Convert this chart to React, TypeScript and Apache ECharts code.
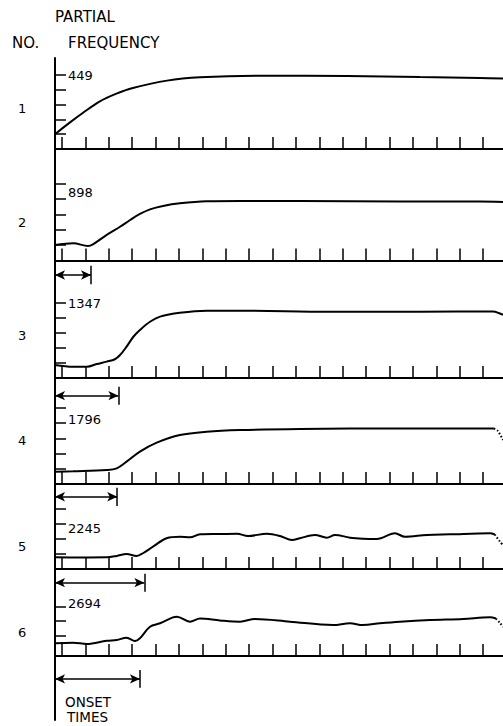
import React, { useEffect, useRef } from "react";
import * as echarts from "echarts";

// ---------- data ----------
const panelNumbers = ["1", "2", "3", "4", "5", "6"];
const frequencies = ["449", "898", "1347", "1796", "2245", "2694"];
const timeTicks = [0, 1, 2, 3, 4, 5, 6, 7, 8, 9, 10, 11, 12, 13, 14, 15, 16, 17, 18];

// amplitude envelopes: [time, amplitude]
const partial1 = [
  [-0.3, 1.0], [0.3, 1.75], [0.9, 2.45], [1.6, 3.2], [2.3, 3.72], [3.03, 4.12],
  [4.49, 4.62], [5.9, 4.84], [8.59, 4.95], [12.18, 4.93], [15.3, 4.86], [17.86, 4.8],
  [18.85, 4.76],
];
const partial2 = [
  [-0.3, 1.01], [0.48, 1.12], [1.11, 0.94], [1.34, 1.07], [1.91, 1.66], [2.48, 2.19],
  [2.91, 2.63], [3.33, 3.02], [3.76, 3.32], [4.32, 3.54], [5.04, 3.71], [6.18, 3.84],
  [7.61, 3.86], [10.17, 3.86], [14.44, 3.83], [17.86, 3.83], [18.85, 3.8],
];
const partial3 = [
  [-0.3, 0.87], [0.47, 0.75], [1.06, 0.75], [1.48, 0.93], [1.91, 1.09], [2.26, 1.25],
  [2.48, 1.53], [2.76, 2.09], [3.05, 2.75], [3.33, 3.2], [3.76, 3.75], [4.19, 4.09],
  [5.04, 4.35], [6.18, 4.49], [7.61, 4.49], [11.45, 4.42], [15.3, 4.42], [18.42, 4.43],
  [18.72, 4.3], [18.85, 4.2],
];
const partial4 = [
  [-0.3, 0.81], [0.47, 0.84], [1.91, 0.92], [2.34, 1.03], [2.76, 1.47], [3.33, 2.13],
  [4.05, 2.72], [5.04, 3.22], [6.18, 3.44], [7.61, 3.55], [10.17, 3.62], [14.44, 3.65],
  [18.46, 3.65],
];
const partial5 = [
  [-0.3, 0.78], [0.77, 0.77], [1.91, 0.78], [2.34, 0.87], [2.76, 1.0], [3.19, 0.87],
  [3.46, 1.05], [3.89, 1.49], [4.47, 2.05], [5.04, 2.15], [5.47, 2.11], [5.9, 2.31],
  [6.75, 2.33], [7.48, 2.35], [7.95, 2.2], [8.76, 2.35], [9.32, 2.2], [9.83, 1.93],
  [10.17, 2.05], [10.81, 2.27], [11.32, 2.09], [11.67, 2.27], [12.31, 2.09], [12.86, 2.02],
  [13.46, 2.0], [14.23, 2.38], [14.66, 2.15], [15.6, 2.27], [16.58, 2.31], [18.29, 2.38],
  [18.5, 2.3],
];
const partial6 = [
  [-0.3, 0.86], [0.47, 0.9], [1.06, 0.81], [1.91, 1.03], [2.34, 1.08], [2.76, 1.24],
  [3.12, 1.01], [3.33, 1.2], [3.76, 1.98], [4.19, 2.21], [4.74, 2.61], [4.91, 2.66],
  [5.47, 2.32], [5.9, 2.53], [6.75, 2.4], [7.61, 2.32], [8.25, 2.5], [9.74, 2.32],
  [11.58, 2.09], [12.31, 2.21], [12.86, 2.09], [13.59, 2.21], [14.44, 2.32], [15.73, 2.43],
  [17.14, 2.5], [18.29, 2.61], [18.55, 2.53],
];
// dotted decay tails
const tail4 = [[18.46, 3.65], [18.63, 3.49], [18.85, 2.89]];
const tail5 = [[18.5, 2.3], [18.72, 1.82], [18.85, 1.6]];
const tail6 = [[18.55, 2.53], [18.72, 2.23], [18.85, 1.96]];

const partials = [partial1, partial2, partial3, partial4, partial5, partial6];
const tails = [null, null, null, tail4, tail5, tail6];

// onset time of each partial and level of its arrow below the baseline
const onsetTimes = [0, 1.24, 2.41, 2.36, 3.52, 3.33];
const onsetLevels = [0, -0.94, -1.18, -0.84, -0.91, -1.55];

// amplitude ticks on the left axis and where the frequency label sits
const ampTicks = [
  [1, 2, 3, 4, 5],
  [1, 2, 3, 4, 5],
  [1, 2, 3, 4, 5],
  [1, 2, 3, 4, 5],
  [1, 2, 3, 4],
  [1.35, 2.35, 3.35],
];
const labelLevels = [5, 4.4, 5, 4.25, 2.73, 3.55];

// ---------- layout ----------
const W = 503;
const H = 726;
const AXIS_X = 55;
const baselines = [149, 260.5, 378, 484, 569, 656];
const unitPx = [14.8, 15.4, 15, 15.2, 15, 14.8];
const yMax = [6.15, 5.5, 5.6, 5.4, 4.5, 4.0];
const yMin = [-2.2, -2.4, -2.2, -2.0, -2.2, -4.32];
const numberY = [108, 222, 335, 440, 546, 632];
const X_MIN = -0.3;
const X_MAX = 18.85;

const FONT = '"DejaVu Sans", sans-serif';

export default function App() {
  const ref = useRef<HTMLDivElement>(null);

  useEffect(() => {
    if (!ref.current) return;
    const chart = echarts.init(ref.current, undefined, { renderer: "svg" });

    const grids: any[] = [];
    const xAxes: any[] = [];
    const yAxes: any[] = [];
    const series: any[] = [];

    for (let i = 0; i < 6; i++) {
      const top = baselines[i] - unitPx[i] * yMax[i];
      const bottomPx = baselines[i] - unitPx[i] * yMin[i];
      grids.push({ left: AXIS_X, right: 0, top, height: bottomPx - top, containLabel: false });
      xAxes.push({
        type: "value",
        gridIndex: i,
        min: X_MIN,
        max: X_MAX,
        axisLine: { show: true, onZero: true, lineStyle: { color: "#000", width: 2 } },
        axisTick: {
          show: true,
          inside: true,
          length: 12,
          customValues: timeTicks,
          lineStyle: { color: "#000", width: 1.5 },
        },
        axisLabel: { show: false },
        splitLine: { show: false },
      });
      const freq = frequencies[i];
      yAxes.push({
        type: "value",
        gridIndex: i,
        min: yMin[i],
        max: yMax[i],
        axisLine: { show: true, onZero: false, lineStyle: { color: "#000", width: 2 } },
        axisTick: {
          show: true,
          inside: true,
          length: 11,
          customValues: ampTicks[i],
          lineStyle: { color: "#000", width: 1.5 },
        },
        axisLabel: {
          show: true,
          inside: true,
          margin: 13,
          customValues: [labelLevels[i]],
          formatter: () => freq,
          color: "#000",
          fontSize: 13,
          fontFamily: FONT,
        },
        splitLine: { show: false },
      });

      const s: any = {
        type: "line",
        xAxisIndex: i,
        yAxisIndex: i,
        data: partials[i],
        smooth: 0.35,
        symbol: "none",
        lineStyle: { color: "#000", width: 2 },
        silent: true,
      };
      if (onsetTimes[i] > 0) {
        const lv = onsetLevels[i];
        const t = onsetTimes[i];
        s.markLine = {
          silent: true,
          animation: false,
          label: { show: false },
          lineStyle: { color: "#000", width: 1.5, type: "solid" },
          data: [
            [
              { coord: [X_MIN, lv], symbol: "arrow", symbolSize: [7, 10] },
              { coord: [t, lv], symbol: "arrow", symbolSize: [7, 10] },
            ],
            [
              { coord: [t, lv + 0.6], symbol: "none" },
              { coord: [t, lv - 0.6], symbol: "none" },
            ],
          ],
        };
      }
      series.push(s);
      const tl = tails[i];
      if (tl) {
        series.push({
          type: "line",
          xAxisIndex: i,
          yAxisIndex: i,
          data: tl,
          smooth: 0.3,
          symbol: "none",
          lineStyle: { color: "#000", width: 2, type: [1.5, 2] },
          silent: true,
        });
      }
    }

    const textEl = (text: string, x: number, y: number, size: number) => ({
      type: "text",
      x,
      y,
      silent: true,
      style: {
        text,
        fill: "#000",
        font: `${size}px ${FONT}`,
        align: "left",
        verticalAlign: "middle",
      },
    });

    const graphics: any[] = [
      textEl("PARTIAL", 55, 17, 15),
      textEl("NO.", 12, 42.5, 15),
      textEl("FREQUENCY", 68, 42.5, 15),
      textEl("ONSET", 65, 702, 13.5),
      textEl("TIMES", 67, 716.5, 13.5),
    ];
    panelNumbers.forEach((n, i) => graphics.push(textEl(n, 18, numberY[i], 13)));

    chart.setOption({
      animation: false,
      backgroundColor: "#fff",
      grid: grids,
      xAxis: xAxes,
      yAxis: yAxes,
      series,
      graphic: graphics,
    });

    return () => chart.dispose();
  }, []);

  return (
    <div
      ref={ref}
      style={{ position: "absolute", left: 0, top: 0, width: W, height: H, background: "#fff" }}
    />
  );
}
